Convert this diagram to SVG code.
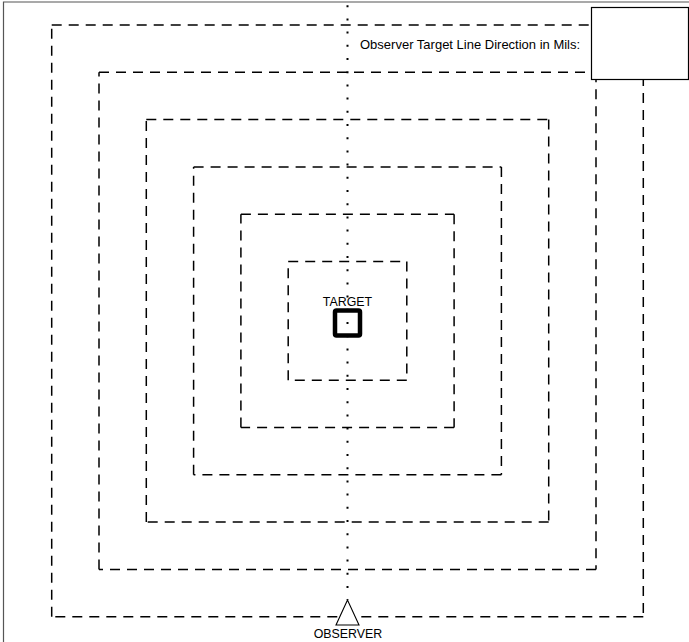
<svg xmlns="http://www.w3.org/2000/svg" width="689" height="642" viewBox="0 0 689 642">
<style>
.ring{fill:none;stroke:#000;stroke-width:1.5;stroke-dasharray:10 7}
.dot{fill:none;stroke:#000;stroke-width:2;stroke-dasharray:2 11.2}
.lbl{font-family:"Liberation Sans",Arial,sans-serif;fill:#000}
</style>
<rect width="689" height="642" fill="#fff"/>
<path d="M3.5 642V2H689" fill="none" stroke="#555" stroke-width="1.2"/>
<g id="rings">
<g id="ring1" class="ring"><path d="M51.7 25H643.3"/><path d="M643.3 25V616.7"/><path d="M643.3 616.7H51.7"/><path d="M51.7 616.7V25"/></g>
<g id="ring2" class="ring"><path d="M99 72.3H596"/><path d="M596 72.3V569.4"/><path d="M596 569.4H99"/><path d="M99 569.4V72.3"/></g>
<g id="ring3" class="ring"><path d="M146.3 119.6H548.7"/><path d="M548.7 119.6V522.1"/><path d="M548.7 522.1H146.3"/><path d="M146.3 522.1V119.6"/></g>
<g id="ring4" class="ring"><path d="M193.6 166.9H501.4"/><path d="M501.4 166.9V474.8"/><path d="M501.4 474.8H193.6"/><path d="M193.6 474.8V166.9"/></g>
<g id="ring5" class="ring"><path d="M240.9 214.2H454.1"/><path d="M454.1 214.2V427.5"/><path d="M454.1 427.5H240.9"/><path d="M240.9 427.5V214.2"/></g>
<g id="ring6" class="ring"><path d="M288.2 261.5H406.8"/><path d="M406.8 261.5V380.2"/><path d="M406.8 380.2H288.2"/><path d="M288.2 380.2V261.5"/></g>
</g>
<g id="connectors">
<path class="dot" d="M347.5 5.2V600"/>
</g>
<g id="direction-box">
<rect x="591.5" y="7.5" width="97" height="72" fill="#fff" stroke="#000" stroke-width="1.2"/>
<text class="lbl" x="360" y="48.5" font-size="13">Observer Target Line Direction in Mils:</text>
</g>
<g id="target">
<rect x="335" y="310.5" width="25" height="25" fill="none" stroke="#000" stroke-width="4.5" rx="1.5"/>
<text class="lbl" x="347.5" y="306" font-size="12.4" text-anchor="middle">TARGET</text>
</g>
<g id="observer">
<path d="M347.5 600L336 625H359Z" fill="#fff" stroke="#000" stroke-width="1.1"/>
<text class="lbl" x="348" y="638" font-size="12.4" text-anchor="middle">OBSERVER</text>
</g>
</svg>
